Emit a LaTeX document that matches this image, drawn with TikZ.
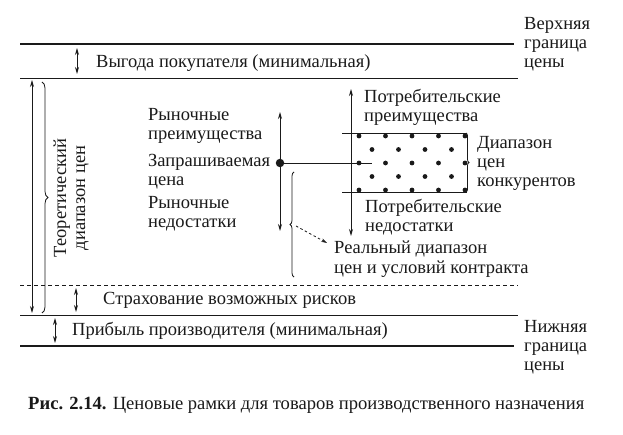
\documentclass[tikz,border=0pt]{standalone}
\usepackage{fontspec}
\setmainfont{Liberation Serif}
\usetikzlibrary{arrows.meta,decorations.pathreplacing}
\definecolor{pfInk}{HTML}{1A1A1A}
\tikzset{
  pf canvas/.style={fill=white},
  pf bound/.style={draw=pfInk, line width=2.4pt},
  pf level/.style={draw=pfInk, line width=.9pt},
  pf risk/.style={draw=pfInk, line width=.9pt, dash pattern=on 4pt off 3pt},
  pf span/.style={
    draw=pfInk,
    line width=.9pt,
    {Stealth[length=7pt,width=4pt]}-{Stealth[length=7pt,width=4pt]}
  },
  pf brace/.style={
    draw=pfInk,
    line width=.8pt,
    decorate,
    decoration={brace, amplitude=#1}
  },
  pf brace/.default=5pt,
  pf hint/.style={
    draw=pfInk,
    line width=.8pt,
    dash pattern=on 2.5pt off 2.5pt,
    -{Stealth[length=6pt,width=3.5pt]}
  },
  pf dot/.style={circle, fill=pfInk, inner sep=0pt, minimum size=8.5pt},
  pf label/.style={font=\fontsize{18.5}{19}\selectfont, text=pfInk,
    inner sep=0pt, align=left, anchor=base west},
  pf caption/.style={font=\fontsize{18.6}{20}\selectfont, text=pfInk,
    inner sep=0pt, anchor=base west}
}

\begin{document}
\begin{tikzpicture}[x=1pt,y=-1pt]
  \useasboundingbox[pf canvas] (0,0) rectangle (623,435);

  % price bounds and levels
  \draw[pf bound] (20,44) -- (514,44);
  \draw[pf level] (20,78) -- (518,78);
  \draw[pf risk] (20,285) -- (518,285);
  \draw[pf level] (20,315) -- (518,315);
  \draw[pf bound] (20,346) -- (514,346);

  \node[pf label] (upperTxt) at (524,68) {Верхняя\\граница\\цены};
  \node[pf label] (lowerTxt) at (524,370) {Нижняя\\граница\\цены};

  \coordinate (buyHi) at (77,48);
  \coordinate (buyLo) at (77,74);
  \draw[pf span] (buyHi) -- (buyLo);
  \node[pf label] (buyTxt) at (96,68) {Выгода покупателя (минимальная)};

  \coordinate (riskHi) at (76,288);
  \coordinate (riskLo) at (76,312);
  \draw[pf span] (riskHi) -- (riskLo);
  \node[pf label] (riskTxt) at (103,305) {Страхование возможных рисков};

  \coordinate (profHi) at (55,318);
  \coordinate (profLo) at (55,343);
  \draw[pf span] (profHi) -- (profLo);
  \node[pf label] (profTxt) at (72,335) {Прибыль производителя (минимальная)};

  % theoretical range
  \coordinate (theoryHi) at (32,80);
  \coordinate (theoryLo) at (32,313);
  \draw[pf span] (theoryHi) -- (theoryLo);
  \draw[pf brace=6pt] (42,82) -- (42,313);
  \node[pf label, anchor=center, align=center, rotate=90] (theoryTxt)
    at (71,198) {Теоретический\\диапазон цен};

  % asked price
  \coordinate (mktHi) at (280,112);
  \coordinate (mktLo) at (280,231);
  \draw[pf span] (mktHi) -- (mktLo);
  \node[pf dot] (askDot) at (280,163) {};
  \coordinate (askRay) at (372,163);
  \draw[pf level] (askDot) -- (askRay);
  \node[pf label] (mktPlus) at (148,140) {Рыночные\\преимущества};
  \node[pf label] (askTxt) at (148,186) {Запрашиваемая\\цена};
  \node[pf label] (mktMinus) at (148,228) {Рыночные\\недостатки};

  \draw[pf brace=4pt] (294,277) -- (294,172);
  \coordinate (realTip) at (296,226);
  \node[pf label] (realTxt) at (334,273) {Реальный диапазон\\цен и условий контракта};
  \coordinate (realEnd) at (327,243);
  \draw[pf hint] (realTip) -- (realEnd);

  % competitors
  \coordinate (consHi) at (351,89);
  \coordinate (consLo) at (351,236);
  \draw[pf span] (consHi) -- (consLo);
  \draw[pf level] (342,133) -- (467,133);
  \draw[pf level] (342,192) -- (467,192);
  \draw[pf brace=3pt] (466,133) -- (466,192);
  \foreach \r in {0,...,4} {
    \pgfmathsetmacro{\yy}{136 + 13.5*\r}
    \pgfmathtruncatemacro{\odd}{mod(\r,2)}
    \ifnum\odd=0
      \foreach \c in {0,...,4}
        \fill[pfInk] (359+26.5*\c,\yy) circle (2.4pt);
    \else
      \foreach \c in {0,...,3}
        \fill[pfInk] (372+26.5*\c,\yy) circle (2.4pt);
    \fi
  }
  \node[pf label] (consPlus) at (364,122) {Потребительские\\преимущества};
  \node[pf label] (consMinus) at (365,232) {Потребительские\\недостатки};
  \node[pf label] (compTxt) at (477,187) {Диапазон\\цен\\конкурентов};

  \node[pf caption] (figCap) at (28,409)
    {\textbf{Рис. 2.14.} Ценовые рамки для товаров производственного назначения};
\end{tikzpicture}
\end{document}
